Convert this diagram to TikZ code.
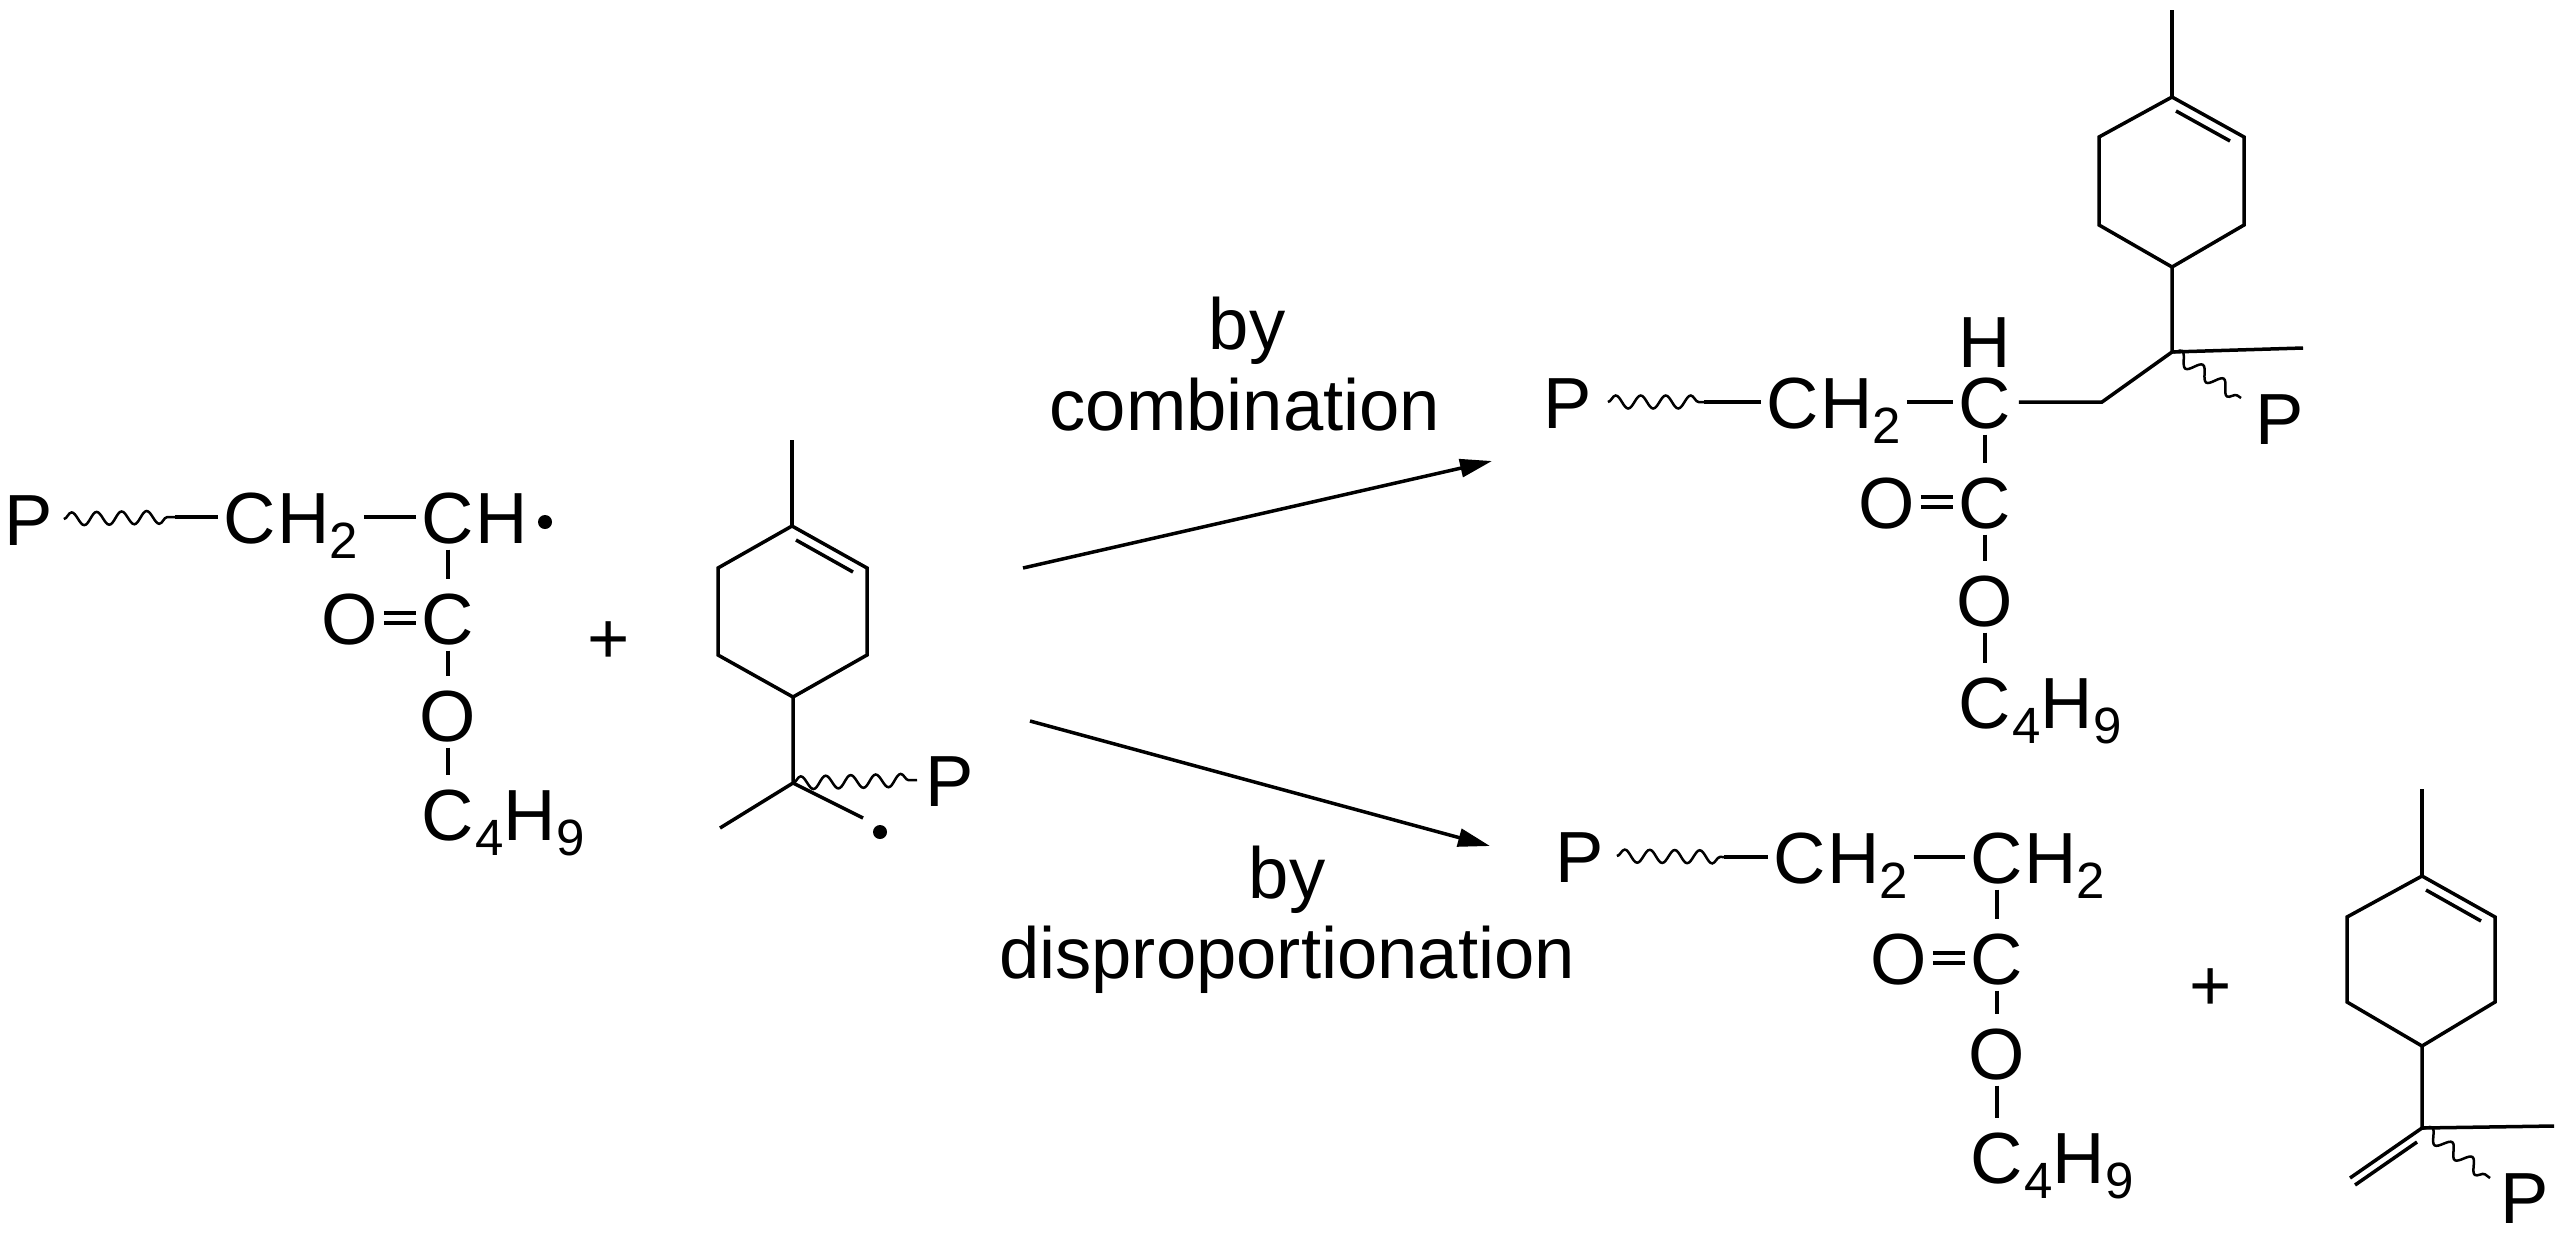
\documentclass[tikz,border=0pt]{standalone}
\usepackage{fontspec}
\setmainfont{Liberation Sans}
\usetikzlibrary{decorations.pathmorphing,arrows.meta}
\newcommand\sbs[1]{\raisebox{-0.15cm}{\fontsize{14.5pt}{14.5pt}\selectfont #1}}
\begin{document}
\begin{tikzpicture}[x=0.01cm,y=-0.01cm,
  chem/.style={font=\fontsize{20.6pt}{24pt}\selectfont},
  atom/.style={chem,inner sep=0pt,text height=0.52cm,text depth=0cm},
  tail/.style={chem,inner sep=0pt,text height=0.52cm,text depth=0cm,anchor=west},
  lab/.style={chem,inner sep=0pt,anchor=base},
  bond/.style={line width=0.035cm,shorten <=0.05cm,shorten >=0.05cm},
  vbond/.style={line width=0.035cm,shorten <=0.06cm,shorten >=0.12cm},
  ln/.style={line width=0.035cm,line join=miter},
  wavy/.style={line width=0.025cm,decorate,decoration={snake,segment length=0.25cm,amplitude=0.065cm}},
  rad/.style={circle,fill=black,inner sep=0pt,minimum size=0.14cm},
  rxn/.style={line width=0.035cm,-{Triangle[length=0.32cm,width=0.18cm]}}]
\useasboundingbox (0,0) rectangle (2567,1233);
% ---------- reactant 1
\node[atom] (P1) at (29,519) {P};
\coordinate (w1) at (175,517);
\node[atom] (C1) at (250,517) {C};
\node[tail] (H1) at (C1.east) {H\sbs{2}};
\node[atom] (C2) at (448,517) {C};
\node[tail] (H2) at (C2.east) {H};
\node[rad] (dot1) at (545,522) {};
\node[atom] (O1) at (350,618) {O};
\node[atom] (C3) at (448,618) {C};
\node[atom] (O2) at (448,715) {O};
\node[atom] (C4) at (448,814) {C};
\node[tail] (R1) at (C4.east) {\sbs{4}H\sbs{9}};
\draw[wavy] ([xshift=0.1cm]P1.east) -- (w1);
\draw[ln,shorten >=0.05cm] (w1) -- (C1.west);
\draw[bond] (H1.east |- C1) -- (C2.west);
\draw[vbond] (C2.south) -- (C3.north);
\draw[bond] ([yshift=0.05cm]O1.east) -- ([yshift=0.05cm]C3.west);
\draw[bond] ([yshift=-0.05cm]O1.east) -- ([yshift=-0.05cm]C3.west);
\draw[vbond] (C3.south) -- (O2.north);
\draw[vbond] (O2.south) -- (C4.north);
\node[chem,inner sep=0pt] (plus1) at (609,643) {+};
% ---------- reactant 2
\coordinate (m1) at (792,440);
\coordinate (r1a) at (792,526); \coordinate (r1b) at (867,568);
\coordinate (r1c) at (867,655); \coordinate (r1d) at (793,697);
\coordinate (r1e) at (718,655); \coordinate (r1f) at (718,568);
\coordinate (Q1) at (793,783);
\coordinate (m1b) at (720,828);
\coordinate (e1) at (863,818);
\coordinate (w2) at (917,780);
\node[rad] (dot2) at (880,832) {};
\node[atom] (P2) at (950,780) {P};
\draw[ln] (m1) -- (r1a);
\draw[ln] (r1a) -- (r1b) -- (r1c) -- (r1d) -- (r1e) -- (r1f) -- cycle;
\draw[ln] (796,540) -- (853,572);
\draw[ln] (r1d) -- (Q1) -- (m1b);
\draw[ln] (Q1) -- (e1);
\draw[wavy] (Q1) -- (w2);
% ---------- arrows and labels
\coordinate (a1s) at (1023,568); \coordinate (a1e) at (1492,461);
\coordinate (a2s) at (1030,721); \coordinate (a2e) at (1490,846);
\draw[rxn] (a1s) -- (a1e);
\draw[rxn] (a2s) -- (a2e);
\node[lab] (L1) at (1247,349) {by};
\node[lab] (L2) at (1245,430) {combination};
\node[lab] (L3) at (1287,898) {by};
\node[lab] (L4) at (1287,978) {disproportionation};
% ---------- product by combination
\node[atom] (P3) at (1568,402) {P};
\coordinate (w3) at (1704,402);
\node[atom] (C5) at (1793,402) {C};
\node[tail] (H5) at (C5.east) {H\sbs{2}};
\node[atom] (C6) at (1985,402) {C};
\node[atom] (H6) at (1985,341) {H};
\coordinate (k1) at (2102,402);
\coordinate (Q2) at (2172,352);
\coordinate (m2) at (2172,10);
\coordinate (r2a) at (2172,97); \coordinate (r2b) at (2244,137);
\coordinate (r2c) at (2244,225); \coordinate (r2d) at (2172,267);
\coordinate (r2e) at (2099,225); \coordinate (r2f) at (2099,137);
\coordinate (m2b) at (2303,348);
\coordinate (w4) at (2241,398);
\node[atom] (P4) at (2280,418) {P};
\node[atom] (O3) at (1887,502) {O};
\node[atom] (C7) at (1985,502) {C};
\node[atom] (O4) at (1985,600) {O};
\node[atom] (C8) at (1985,702) {C};
\node[tail] (R2) at (C8.east) {\sbs{4}H\sbs{9}};
\draw[wavy] ([xshift=0.15cm]P3.east) -- (w3);
\draw[ln,shorten >=0.05cm] (w3) -- (C5.west);
\draw[bond] (H5.east |- C5) -- (C6.west);
\draw[ln,shorten <=0.07cm] (C6.east) -- (k1) -- (Q2);
\draw[ln] (m2) -- (r2a);
\draw[ln] (r2a) -- (r2b) -- (r2c) -- (r2d) -- (r2e) -- (r2f) -- cycle;
\draw[ln] (2176,111) -- (2230,141);
\draw[ln] (r2d) -- (Q2) -- (m2b);
\draw[wavy] (Q2) -- (w4);
\draw[vbond] (C6.south) -- (C7.north);
\draw[bond] ([yshift=0.05cm]O3.east) -- ([yshift=0.05cm]C7.west);
\draw[bond] ([yshift=-0.05cm]O3.east) -- ([yshift=-0.05cm]C7.west);
\draw[vbond] (C7.south) -- (O4.north);
\draw[vbond] (O4.south) -- (C8.north);
% ---------- products by disproportionation
\node[atom] (P5) at (1580,856) {P};
\coordinate (w5) at (1724,857);
\node[atom] (C9) at (1800,857) {C};
\node[tail] (H9) at (C9.east) {H\sbs{2}};
\node[atom] (C10) at (1997,857) {C};
\node[tail] (H10) at (C10.east) {H\sbs{2}};
\node[atom] (O5) at (1899,958) {O};
\node[atom] (C11) at (1997,958) {C};
\node[atom] (O6) at (1997,1053) {O};
\node[atom] (C12) at (1997,1157) {C};
\node[tail] (R3) at (C12.east) {\sbs{4}H\sbs{9}};
\draw[wavy] ([xshift=0.12cm]P5.east) -- (w5);
\draw[ln,shorten >=0.05cm] (w5) -- (C9.west);
\draw[bond] (H9.east |- C9) -- (C10.west);
\draw[vbond] (C10.south) -- (C11.north);
\draw[bond] ([yshift=0.05cm]O5.east) -- ([yshift=0.05cm]C11.west);
\draw[bond] ([yshift=-0.05cm]O5.east) -- ([yshift=-0.05cm]C11.west);
\draw[vbond] (C11.south) -- (O6.north);
\draw[vbond] (O6.south) -- (C12.north);
\node[chem,inner sep=0pt] (plus2) at (2211,990) {+};
\coordinate (m3) at (2422,789);
\coordinate (r3a) at (2422,876); \coordinate (r3b) at (2495,917);
\coordinate (r3c) at (2495,1002); \coordinate (r3d) at (2422,1046);
\coordinate (r3e) at (2347,1002); \coordinate (r3f) at (2347,917);
\coordinate (Q3) at (2422,1128);
\coordinate (m3b) at (2554,1126);
\coordinate (d3) at (2350,1178);
\coordinate (w6) at (2490,1178);
\node[atom] (P6) at (2525,1197) {P};
\draw[ln] (m3) -- (r3a);
\draw[ln] (r3a) -- (r3b) -- (r3c) -- (r3d) -- (r3e) -- (r3f) -- cycle;
\draw[ln] (2426,890) -- (2481,921);
\draw[ln] (r3d) -- (Q3) -- (m3b);
\draw[ln] (Q3) -- (d3);
\draw[ln] (2417,1142) -- (2355,1185);
\draw[wavy] (Q3) -- (w6);
\end{tikzpicture}
\end{document}
